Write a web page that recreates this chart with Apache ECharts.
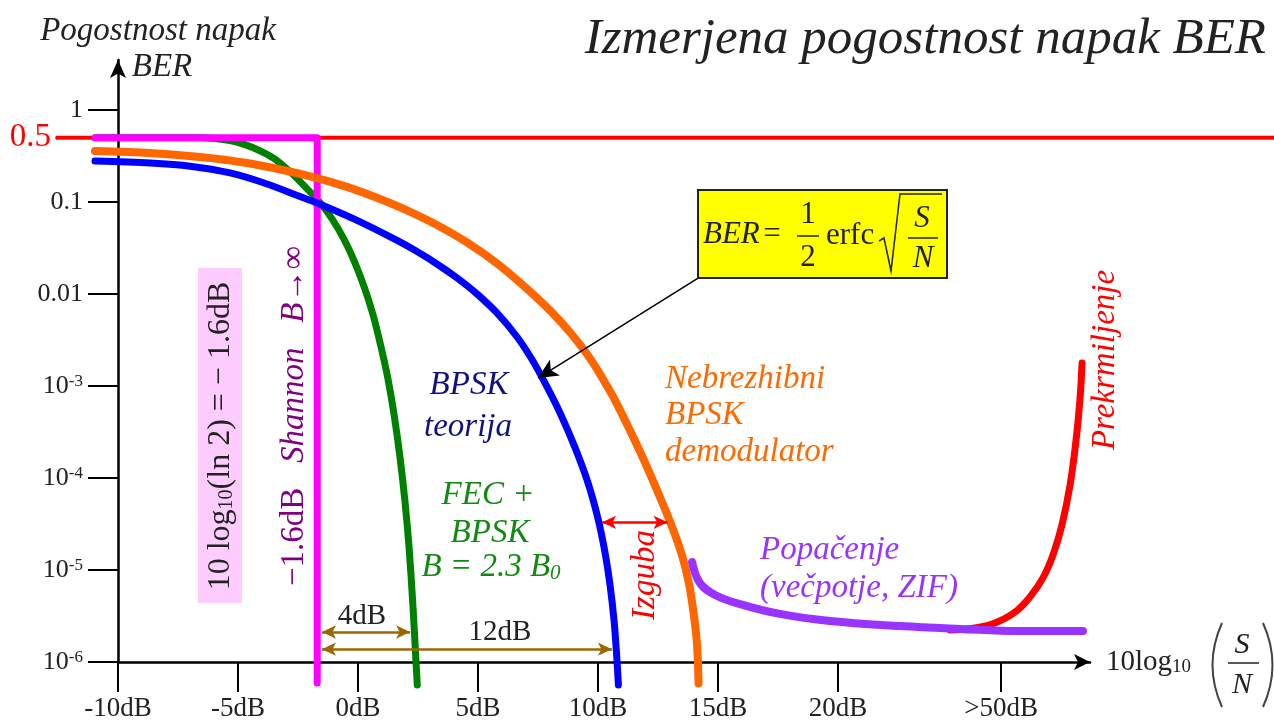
<!DOCTYPE html>
<html>
<head>
<meta charset="utf-8">
<title>Izmerjena pogostnost napak BER</title>
<script src="https://cdn.jsdelivr.net/npm/echarts/dist/echarts.min.js"></script>
<style>
html, body { margin: 0; padding: 0; background: #fff; }
#chart { width: 1274px; height: 722px; }
</style>
</head>
<body>
<div id="chart"></div>
<script>
var FONT = '"Liberation Serif", "Times New Roman", serif';

// osi (x v dB, ">50dB" je za prelomom osi)
var xTickValues = [-10, -5, 0, 5, 10, 15, 20, 26.8];
var xTickLabels = ['-10dB', '-5dB', '0dB', '5dB', '10dB', '15dB', '20dB', '>50dB'];
var yTickBer = [1e-6, 1e-5, 1e-4, 1e-3, 0.01, 0.1, 1];
var yTickLabels = ['10{sup|-6}', '10{sup|-5}', '10{sup|-4}', '10{sup|-3}', '0.01', '0.1', '1'];

// krivulje: S/N [dB] in BER
var limitDb = [-12.6, 38.2];
var limitBer = [0.5, 0.5];

var shannonDb = [-10.96, -1.7, -1.7];
var shannonBer = [0.5, 0.5, 5.9e-7];

var fecDb = [-10.96, -6.58, -5.96, -5.33, -4.71, -4.08, -3.46, -2.83, -2.21, -1.58, -1.08, -0.58, -0.17,
    0.25, 0.63, 0.96, 1.25, 1.5, 1.75, 1.96, 2.13, 2.29, 2.42, 2.47];
var fecBer = [0.5, 0.5, 0.49, 0.464, 0.42, 0.36, 0.293, 0.213, 0.147, 0.0983, 0.0655, 0.0393, 0.0232,
    0.0121, 5.9e-3, 2.65e-3, 1.19e-3, 4.96e-4, 1.68e-4, 5.46e-5, 1.73e-5, 4.04e-6, 9.7e-7, 5.62e-7];

var bpskDb = [-10.96, -8.67, -7.0, -5.33, -3.88, -2.42, -1.71, -0.04, 1.63, 2.46, 3.29, 4.13, 4.96, 5.79,
    6.63, 7.25, 7.79, 8.42, 9.04, 9.58, 10.0, 10.29, 10.5, 10.67, 10.79, 10.85];
var bpskBer = [0.279, 0.265, 0.245, 0.207, 0.16, 0.115, 0.0975, 0.0631, 0.0382, 0.0289, 0.0212, 0.0149, 0.01, 6.22e-3,
    3.41e-3, 1.94e-3, 1.08e-3, 5.09e-4, 2.15e-4, 8.91e-5, 3.62e-5, 1.56e-5, 6.92e-6, 2.81e-6, 1.06e-6, 5.62e-7];

var nonCohDb = [-10.96, -8.67, -6.58, -4.63, -3.04, -1.71, -0.46, 0.79, 2.04, 3.29, 4.54, 5.79, 7.04,
    8.08, 8.92, 9.67, 10.08, 10.71, 11.33, 11.96, 12.58, 13.08, 13.5, 13.79, 14.0, 14.13, 14.19];
var nonCohBer = [0.358, 0.341, 0.308, 0.265, 0.22, 0.182, 0.146, 0.111, 0.081, 0.0561, 0.0363, 0.0215, 0.0114,
    6.31e-3, 3.6e-3, 1.99e-3, 1.35e-3, 6.99e-4, 3.3e-4, 1.47e-4, 6.22e-5, 2.98e-5, 1.44e-5, 7.15e-6, 3.17e-6, 1.5e-6, 5.85e-7];

var distortDb = [13.92, 14.25, 14.88, 15.92, 17.58, 19.67, 22.58, 25.08, 27.58, 30.21];
var distortBer = [1.22e-5, 7.2e-6, 5.35e-6, 4.26e-6, 3.33e-6, 2.79e-6, 2.46e-6, 2.29e-6, 2.17e-6, 2.17e-6];

var overdriveDb = [24.67, 25.71, 26.54, 27.38, 28.0, 28.54, 28.96, 29.33, 29.67, 29.92, 30.08, 30.17];
var overdriveBer = [2.23e-6, 2.34e-6, 2.65e-6, 3.49e-6, 5.1e-6, 8.2e-6, 1.46e-5, 3.08e-5, 8.4e-5, 2.59e-4, 7.05e-4, 1.78e-3];

function lg(b) { return Math.log10(b); }
function pts(db, ber) {
    return db.map(function (d, i) { return [d, lg(ber[i])]; });
}

// krivulje risemo v sirso mrezo (isto merilo), da segajo levo od osi y
function curve(db, ber, color, width, smooth) {
    return {
        type: 'line', xAxisIndex: 1, yAxisIndex: 1, data: pts(db, ber), smooth: smooth, symbol: 'none',
        clip: false, silent: true,
        lineStyle: { color: color, width: width, cap: 'round', join: 'round' }
    };
}

function arrows(color, width, symbol, size, lines) {
    return {
        type: 'line', data: [], silent: true,
        markLine: {
            silent: true, symbol: symbol, symbolSize: size,
            label: { show: false },
            lineStyle: { color: color, width: width, type: 'solid' },
            emphasis: { disabled: true },
            data: lines.map(function (l) {
                return [{ coord: [l[0], lg(l[1])] }, { coord: [l[2], lg(l[3])] }];
            })
        }
    };
}

function txt(x, y, text, color, size, o) {
    o = o || {};
    return {
        type: 'text', x: x, y: y, rotation: o.rot || 0, z: 20, silent: true,
        style: {
            text: text, fill: color,
            font: (o.italic ? 'italic ' : '') + size + 'px ' + FONT,
            textAlign: o.align || 'center', textVerticalAlign: 'middle',
            rich: o.rich
        }
    };
}

function sub(size, style) {
    return { sub: { fontSize: size, fontFamily: FONT, fontStyle: style || 'normal', verticalAlign: 'bottom' } };
}

var limitData = pts(limitDb, limitBer);
limitData[0] = {
    value: limitData[0],
    label: { show: true, position: 'left', distance: 4, formatter: '0.5', color: '#ff0000', fontSize: 33, fontFamily: FONT }
};

var option = {
    animation: false,
    grid: [
        { left: 118, right: 184, top: 60, bottom: 60, containLabel: false, outerBoundsMode: 'none' },
        { left: 55, right: 0, top: 60, bottom: 60, containLabel: false, outerBoundsMode: 'none' }
    ],
    xAxis: [{
        type: 'value', min: -10, max: 30.5,
        axisLine: { onZero: false, symbol: ['none', 'arrow'], symbolSize: [12, 16], lineStyle: { color: '#000', width: 2.5 } },
        axisTick: { customValues: xTickValues, length: 30, lineStyle: { color: '#000', width: 2 } },
        axisLabel: {
            customValues: xTickValues, margin: 33, color: '#222', fontSize: 27, fontFamily: FONT,
            formatter: function (v) { return xTickLabels[xTickValues.indexOf(v)]; }
        },
        splitLine: { show: false }
    }, {
        type: 'value', gridIndex: 1, min: -12.625, max: 38.167, show: false
    }],
    yAxis: [{
        type: 'value', min: -6, max: 0.5435,
        axisLine: { onZero: false, symbol: ['none', 'arrow'], symbolSize: [12, 18], lineStyle: { color: '#000', width: 2.5 } },
        axisTick: { customValues: yTickBer.map(lg), length: 30, lineStyle: { color: '#000', width: 2 } },
        axisLabel: {
            customValues: yTickBer.map(lg), margin: 35, color: '#222', fontSize: 26, fontFamily: FONT,
            formatter: function (v) {
                for (var i = 0; i < yTickBer.length; i++) {
                    if (Math.abs(lg(yTickBer[i]) - v) < 1e-6) return yTickLabels[i];
                }
                return '';
            },
            rich: { sup: { fontSize: 17, fontFamily: FONT, color: '#222', verticalAlign: 'top' } }
        },
        splitLine: { show: false }
    }, {
        type: 'value', gridIndex: 1, min: -6, max: 0.5435, show: false
    }],
    series: [
        {
            type: 'line', xAxisIndex: 1, yAxisIndex: 1, data: limitData, clip: false, silent: true,
            symbol: 'circle', symbolSize: 1, showSymbol: true,
            itemStyle: { color: '#ff0000' }, lineStyle: { color: '#ff0000', width: 4 }
        },
        curve(fecDb, fecBer, '#008000', 7, 0.3),
        curve(shannonDb, shannonBer, '#ff00ff', 7, false),
        curve(nonCohDb, nonCohBer, '#ff6600', 8, 0.3),
        curve(bpskDb, bpskBer, '#0000ff', 7, 0.3),
        curve(overdriveDb, overdriveBer, '#ff0000', 7, 0.4),
        curve(distortDb, distortBer, '#9933ff', 8, 0.4),
        arrows('#9a6700', 2.5, ['arrow', 'arrow'], [10, 14], [
            [-1.5, 2.12e-6, 2.17, 2.12e-6],
            [-1.5, 1.38e-6, 10.58, 1.38e-6]
        ]),
        arrows('#ff0000', 2.5, ['arrow', 'arrow'], [10, 14], [
            [10.17, 3.3e-5, 12.9, 3.3e-5]
        ]),
        arrows('#000', 1.5, ['none', 'arrow'], [14, 20], [
            [14.17, 0.0149, 7.5, 1.22e-3]
        ]),
        arrows('#000', 2, ['none', 'none'], 0, [
            [22.58, 5.9e-7, 23.42, 1.6e-6],
            [23.0, 5.9e-7, 23.83, 1.6e-6]
        ])
    ],
    graphic: [
        txt(1266, 40, 'Izmerjena pogostnost napak BER', '#222', 51, { italic: true, align: 'right' }),
        txt(158, 31, 'Pogostnost napak', '#222', 33, { italic: true }),
        txt(162, 67, 'BER', '#222', 33, { italic: true }),

        { type: 'rect', z: 15, silent: true, shape: { x: 198, y: 268, width: 44, height: 335 }, style: { fill: '#ffccff' } },
        txt(221, 436, '10 log{sub|10}(ln 2) = − 1.6dB', '#222', 32, { rot: Math.PI / 2, rich: sub(20) }),
        txt(294, 416, '−1.6dB   {i|Shannon}   {i|B}→∞', '#800080', 33, {
            rot: Math.PI / 2,
            rich: { i: { fontSize: 33, fontFamily: FONT, fontStyle: 'italic' } }
        }),

        txt(469, 385, 'BPSK', '#101080', 33, { italic: true }),
        txt(468, 427, 'teorija', '#101080', 33, { italic: true }),
        txt(488, 495, 'FEC +', '#128a12', 33, { italic: true }),
        txt(490, 533, 'BPSK', '#128a12', 33, { italic: true }),
        txt(491, 567, 'B = 2.3 B{sub|0}', '#128a12', 33, { italic: true, rich: sub(21, 'italic') }),
        txt(665, 379, 'Nebrezhibni', '#ff6a00', 33, { italic: true, align: 'left' }),
        txt(665, 415, 'BPSK', '#ff6a00', 33, { italic: true, align: 'left' }),
        txt(665, 452, 'demodulator', '#ff6a00', 33, { italic: true, align: 'left' }),
        txt(760, 550, 'Popačenje', '#9933ff', 33, { italic: true, align: 'left' }),
        txt(760, 588, '(večpotje, ZIF)', '#9933ff', 33, { italic: true, align: 'left' }),
        txt(645, 575, 'Izguba', '#ff0000', 33, { italic: true, rot: Math.PI / 2 }),
        txt(1105, 360, 'Prekrmiljenje', '#ff0000', 33, { italic: true, rot: Math.PI / 2 }),
        txt(362, 616, '4dB', '#222', 29),
        txt(500, 632, '12dB', '#222', 29),

        // formula
        { type: 'rect', z: 15, silent: true, shape: { x: 698, y: 190, width: 249, height: 88 }, style: { fill: '#ffff00', stroke: '#222', lineWidth: 2 } },
        txt(703, 235, 'BER', '#222', 31, { italic: true, align: 'left' }),
        txt(772, 235, '=', '#222', 31),
        txt(808, 215, '1', '#222', 31),
        { type: 'line', z: 20, silent: true, shape: { x1: 797, y1: 236, x2: 819, y2: 236 }, style: { stroke: '#222', lineWidth: 1.5 } },
        txt(808, 258, '2', '#222', 31),
        txt(826, 236, 'erfc', '#222', 31, { align: 'left' }),
        { type: 'polyline', z: 20, silent: true, shape: { points: [[879, 241], [884, 238], [891, 271], [900, 194], [942, 194]] }, style: { stroke: '#222', lineWidth: 1.5, fill: null } },
        txt(922, 219, 'S', '#222', 31, { italic: true }),
        { type: 'line', z: 20, silent: true, shape: { x1: 908, y1: 238, x2: 938, y2: 238 }, style: { stroke: '#222', lineWidth: 1.5 } },
        txt(923, 259, 'N', '#222', 31, { italic: true }),

        // ime x osi
        txt(1106, 662, '10log{sub|10}', '#222', 29, { align: 'left', rich: sub(19) }),
        { type: 'bezierCurve', z: 20, silent: true, shape: { x1: 1222, y1: 623, x2: 1222, y2: 707, cpx1: 1203, cpy1: 665 }, style: { stroke: '#444', lineWidth: 2, fill: null } },
        { type: 'bezierCurve', z: 20, silent: true, shape: { x1: 1263, y1: 623, x2: 1263, y2: 707, cpx1: 1282, cpy1: 665 }, style: { stroke: '#444', lineWidth: 2, fill: null } },
        txt(1242, 645, 'S', '#222', 30, { italic: true }),
        { type: 'line', z: 20, silent: true, shape: { x1: 1228, y1: 663, x2: 1259, y2: 663 }, style: { stroke: '#222', lineWidth: 1.5 } },
        txt(1242, 685, 'N', '#222', 30, { italic: true })
    ]
};

var chart = echarts.init(document.getElementById('chart'));
chart.setOption(option);
</script>
</body>
</html>
